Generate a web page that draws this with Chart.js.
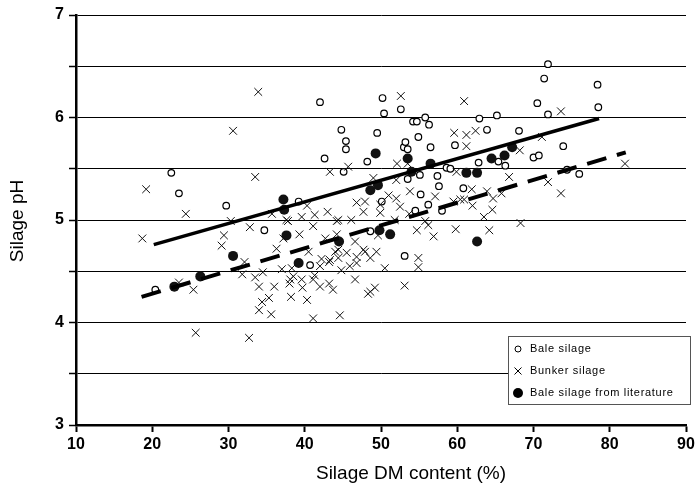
<!DOCTYPE html>
<html>
<head>
<meta charset="utf-8">
<script src="https://cdn.jsdelivr.net/npm/chart.js@4/dist/chart.umd.min.js"></script>
<style>
  html, body { margin: 0; padding: 0; background: #fff; }
  #wrap { width: 698px; height: 494px; position: relative; }
</style>
</head>
<body>
<div id="wrap"><canvas id="chart" width="698" height="494"></canvas></div>
<script>
// Silage pH vs DM content - [DM %, pH]
const baleSilage = [
  [20.4,4.32],[22.5,5.46],[23.5,5.26],[29.7,5.14],[34.7,4.90],[39.2,5.18],[40.7,4.56],
  [42.0,6.15],[42.6,5.60],[44.8,5.88],[45.1,5.47],[45.4,5.77],[45.4,5.69],[48.2,5.57],
  [48.6,4.89],[49.5,5.85],[50.1,5.18],[50.2,6.19],[50.4,6.04],[52.6,6.08],[53.0,5.71],
  [53.1,4.65],[53.2,5.76],[53.5,5.69],[53.5,5.40],[54.2,5.96],[54.5,5.09],[54.7,5.96],
  [54.9,5.81],[55.1,5.44],[55.2,5.25],[55.8,6.00],[56.2,5.15],[56.3,5.93],[56.5,5.71],
  [57.4,5.43],[57.6,5.33],[58.0,5.09],[58.6,5.51],[59.1,5.50],[59.7,5.73],[60.8,5.31],
  [62.8,5.56],[62.9,5.99],[63.9,5.88],[65.2,6.02],[65.4,5.57],[66.3,5.53],[68.1,5.87],
  [70.0,5.61],[70.5,6.14],[70.7,5.63],[71.4,6.38],[71.9,6.52],[71.9,6.03],[73.9,5.72],
  [74.4,5.49],[76.0,5.45],[78.4,6.32],[78.5,6.10]
];
const bunkerSilage = [
  [18.7,4.82],[19.2,5.30],[23.5,4.39],[24.4,5.06],[25.4,4.32],[25.7,3.90],[29.1,4.75],
  [29.4,4.85],[30.3,4.99],[30.6,5.87],[31.8,4.47],[32.1,4.59],[32.7,3.85],[32.8,4.93],
  [33.5,5.42],[33.5,4.44],[33.9,6.25],[34.0,4.35],[34.0,4.12],[34.4,4.20],[34.5,4.49],
  [35.3,4.24],[35.6,4.08],[35.7,5.06],[36.0,4.35],[36.3,4.72],[37.0,4.52],[37.2,4.82],
  [37.6,5.00],[37.8,4.99],[38.0,4.38],[38.1,4.42],[38.2,4.25],[38.3,4.53],[38.5,4.45],
  [39.3,4.86],[39.6,4.42],[39.6,5.03],[39.7,4.34],[40.3,5.14],[40.3,4.22],[40.5,4.69],
  [41.1,4.04],[41.1,4.94],[41.1,4.42],[41.3,5.05],[41.3,4.46],[42.0,4.35],[42.0,4.55],
  [42.2,4.62],[42.7,4.82],[43.0,5.08],[43.2,4.38],[43.2,4.59],[43.3,5.47],[43.3,4.61],
  [43.7,4.32],[44.0,4.69],[44.2,4.99],[44.2,4.86],[44.4,4.63],[44.4,4.71],[44.4,5.00],
  [44.6,4.07],[44.8,4.51],[45.5,4.68],[45.7,5.52],[45.9,4.55],[46.1,5.00],[46.6,4.79],
  [46.6,4.42],[46.8,4.64],[46.8,4.58],[46.8,5.17],[47.7,5.08],[47.7,4.71],[47.9,5.18],
  [47.9,4.69],[48.3,4.28],[48.6,4.63],[48.6,4.30],[49.0,5.41],[49.2,4.34],[49.4,4.69],
  [49.6,4.85],[49.9,5.15],[49.9,5.07],[50.5,4.53],[51.0,5.24],[51.8,5.00],[52.0,5.21],
  [52.0,5.39],[52.1,5.55],[52.5,5.13],[52.6,6.21],[53.1,4.36],[53.5,5.55],[53.7,5.06],
  [53.8,5.28],[54.7,4.90],[54.9,4.63],[54.9,4.54],[55.8,4.99],[56.2,4.95],[56.9,4.84],
  [57.1,5.23],[59.5,5.18],[59.6,5.85],[59.8,4.91],[59.9,5.47],[60.4,5.20],[60.9,6.16],
  [60.9,5.20],[61.2,5.83],[61.2,5.72],[61.9,5.30],[62.0,5.14],[62.4,5.87],[63.5,5.03],
  [63.9,5.28],[64.2,4.90],[64.6,5.10],[64.7,5.21],[65.8,5.26],[66.8,5.42],[68.2,5.68],
  [68.3,4.97],[71.1,5.81],[71.9,5.37],[73.6,6.06],[73.6,5.26],[82.0,5.55]
];
const literatureSilage = [
  [22.9,4.35],[26.3,4.45],[30.6,4.65],[37.2,5.20],[37.3,5.10],[37.6,4.85],[39.2,4.58],
  [44.5,4.79],[48.6,5.29],[49.3,5.65],[49.6,5.34],[49.8,4.90],[51.2,4.86],[53.5,5.60],
  [54.0,5.47],[56.5,5.55],[61.2,5.46],[62.6,5.46],[62.6,4.79],[64.5,5.60],[66.2,5.63],
  [67.2,5.71]
];
// regression lines (end points)
const baleTrend = [[20.2,4.76],[78.6,5.99]];
const bunkerTrend = [[18.6,4.25],[82.1,5.66]];

const xTicks = [10, 20, 30, 40, 50, 60, 70, 80, 90];
const yTicks = [3, 4, 5, 6, 7];

const legendLabels = ['Bale silage', 'Bunker silage', 'Bale silage from literature'];
const xTitle = 'Silage DM content (%)';
const yTitle = 'Silage pH';

const toXY = arr => arr.map(p => ({ x: p[0], y: p[1] }));
const tickFont = { family: '"Liberation Sans Narrow", "Liberation Sans", Arial, sans-serif', size: 16, weight: 'bold' };

// axis titles and legend box drawn on top
const extras = {
  id: 'extras',
  afterDraw(chart) {
    const ctx = chart.ctx;
    ctx.save();
    ctx.fillStyle = '#000';
    ctx.font = '19px "Liberation Sans Narrow", "Liberation Sans", Arial, sans-serif';
    ctx.textAlign = 'center';
    ctx.textBaseline = 'middle';
    ctx.fillText(xTitle, 411, 474);
    ctx.translate(18, 221);
    ctx.rotate(-Math.PI / 2);
    ctx.fillText(yTitle, 0, 0);
    ctx.restore();

    // legend
    const bx = 508, by = 336, bw = 182, bh = 68;
    ctx.save();
    ctx.fillStyle = '#fff';
    ctx.fillRect(bx, by, bw, bh);
    ctx.strokeStyle = '#555';
    ctx.lineWidth = 1;
    ctx.strokeRect(bx + 0.5, by + 0.5, bw, bh);
    ctx.font = '11px "Liberation Sans", Arial, sans-serif';
    ctx.letterSpacing = '0.7px';
    ctx.textBaseline = 'middle';
    ctx.fillStyle = '#000';
    legendLabels.forEach((lab, i) => {
      const cy = by + 13 + i * 22;
      const mx = bx + 10;
      ctx.strokeStyle = '#000';
      ctx.lineWidth = 1;
      if (i === 0) {
        ctx.beginPath(); ctx.arc(mx, cy, 3, 0, Math.PI * 2); ctx.stroke();
      } else if (i === 1) {
        ctx.beginPath();
        ctx.moveTo(mx - 3.5, cy - 3.5); ctx.lineTo(mx + 3.5, cy + 3.5);
        ctx.moveTo(mx + 3.5, cy - 3.5); ctx.lineTo(mx - 3.5, cy + 3.5);
        ctx.stroke();
      } else {
        ctx.beginPath(); ctx.arc(mx, cy, 5, 0, Math.PI * 2); ctx.fill();
      }
      ctx.fillText(lab, bx + 22, cy);
    });
    ctx.restore();
  }
};

new Chart(document.getElementById('chart'), {
  type: 'scatter',
  data: {
    datasets: [
      {
        label: legendLabels[0],
        data: toXY(baleSilage),
        pointStyle: 'circle',
        pointRadius: 3.3,
        pointBorderWidth: 1.2,
        pointBorderColor: '#000',
        pointBackgroundColor: '#fff',
        order: 4
      },
      {
        label: legendLabels[1],
        data: toXY(bunkerSilage),
        pointStyle: 'crossRot',
        pointRadius: 5.5,
        pointBorderWidth: 1,
        pointBorderColor: '#111',
        order: 3
      },
      {
        label: legendLabels[2],
        data: toXY(literatureSilage),
        pointStyle: 'circle',
        pointRadius: 5,
        pointBorderWidth: 0,
        pointBackgroundColor: '#111',
        order: 2
      },
      {
        type: 'line',
        label: 'trend bale',
        data: toXY(baleTrend),
        borderColor: '#000',
        borderWidth: 3.5,
        pointRadius: 0,
        fill: false,
        order: 1
      },
      {
        type: 'line',
        label: 'trend bunker',
        data: toXY(bunkerTrend),
        borderColor: '#000',
        borderWidth: 4,
        borderDash: [20, 11],
        pointRadius: 0,
        fill: false,
        order: 1
      }
    ]
  },
  options: {
    responsive: false,
    animation: false,
    layout: { padding: { top: 15, right: 12, left: 0, bottom: 0 } },
    plugins: { legend: { display: false }, tooltip: { enabled: false } },
    scales: {
      x: {
        type: 'linear',
        min: 10, max: 90,
        afterFit: s => { s.height = 69; },
        afterBuildTicks: s => { s.ticks = xTicks.map(v => ({ value: v })); },
        ticks: { font: tickFont, color: '#000', padding: 3 },
        grid: { drawOnChartArea: false, drawTicks: true, tickLength: 7, tickColor: '#000', tickWidth: 2 },
        border: { color: '#000', width: 2.5 }
      },
      y: {
        type: 'linear',
        min: 3, max: 7,
        afterFit: s => { s.width = 76; },
        ticks: {
          stepSize: 0.5,
          font: tickFont,
          color: '#000',
          padding: 5,
          callback: v => (yTicks.includes(v) ? String(v) : '')
        },
        grid: { color: '#000', lineWidth: 1, tickLength: 7, tickColor: '#000', tickWidth: 1.5 },
        border: { color: '#000', width: 2.5 }
      }
    }
  },
  plugins: [extras]
});
</script>
</body>
</html>
